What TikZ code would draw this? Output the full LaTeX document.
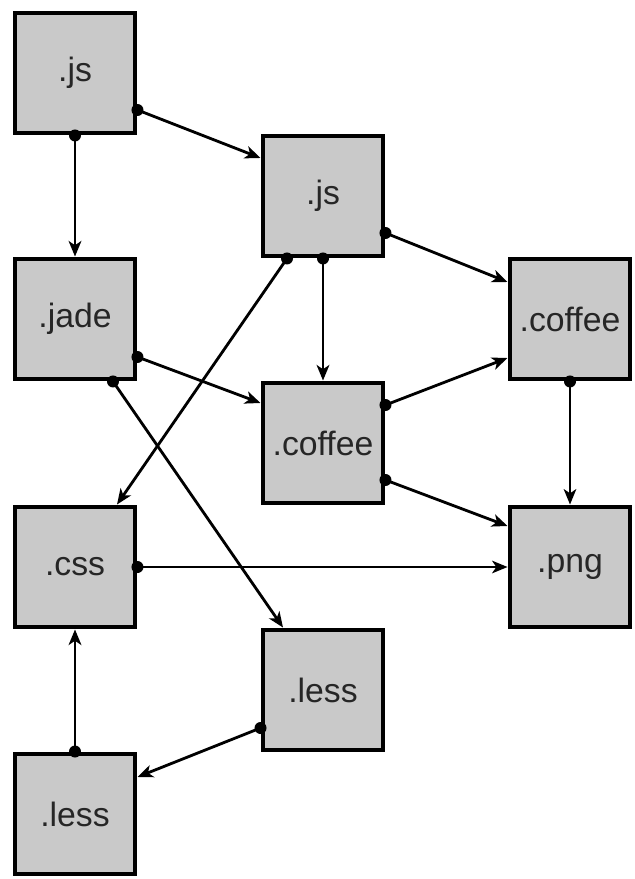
\documentclass[tikz,border=0pt]{standalone}
\usepackage{fontspec}
\setmainfont{Liberation Sans}
\usetikzlibrary{arrows.meta,calc}
\begin{document}
\begin{tikzpicture}[x=0.025cm, y=-0.025cm,
  box/.style={draw=black, line width=3.5pt, fill=BoxFill, minimum size=3cm,
    inner sep=0pt, font=\fontsize{24}{28}\selectfont, text=black!85},
  link/.style={line width=2pt, -{Stealth[length=11pt,width=9pt,inset=3pt]}},
  thinlink/.style={link, line width=1.2pt}]

\colorlet{BoxFill}{black!21}

\useasboundingbox (0,0) rectangle (635,879);

% Boxes
\node[box] (js)      at (75,73)   {.js};
\node[box] (js2)     at (323,196) {.js};
\node[box] (jade)    at (75,319)  {.jade};
\node[box] (coffee2) at (570,319) {.coffee};
\node[box] (coffee)  at (323,443) {.coffee};
\node[box] (css)     at (75,567)  {.css};
\node[box] (png)     at (570,567) {.png};
\node[box] (less2)   at (323,690) {.less};
\node[box] (less)    at (75,814)  {.less};

% Out points
\coordinate (js-r)      at ($(js.east)+(0,37)$);
\coordinate (js-b)      at (js.south);
\coordinate (js2-r)     at ($(js2.east)+(0,37)$);
\coordinate (js2-b)     at (js2.south);
\coordinate (js2-bl)    at ($(js2.south)+(-36,0)$);
\coordinate (jade-r)    at ($(jade.east)+(0,38)$);
\coordinate (jade-b)    at ($(jade.south)+(38,0)$);
\coordinate (coffee-ru) at ($(coffee.east)+(0,-38)$);
\coordinate (coffee-rd) at ($(coffee.east)+(0,37)$);
\coordinate (coffee2-b) at (coffee2.south);
\coordinate (css-r)     at (css.east);
\coordinate (less2-l)   at ($(less2.west)+(0,38)$);
\coordinate (less-t)    at (less.north);

% Links
\draw[link] (js-r) -- ($(js2.west)+(0,-38)$);
\draw[link] (js-b) -- (jade.north);
\draw[link] (js2-r) -- ($(coffee2.west)+(0,-37)$);
\draw[link] (js2-b) -- (coffee.north);
\draw[link] (js2-bl) -- ($(css.north)+(42,0)$);
\draw[link] (jade-r) -- ($(coffee.west)+(0,-40)$);
\draw[link] (jade-b) -- ($(less2.north)+(-40,0)$);
\draw[link] (coffee-ru) -- ($(coffee2.west)+(0,39)$);
\draw[link] (coffee-rd) -- ($(png.west)+(0,-41)$);
\draw[thinlink] (coffee2-b) -- (png.north);
\draw[thinlink] (css-r) -- (png.west);
\draw[link] (less2-l) -- ($(less.east)+(0,-37)$);
\draw[link] (less-t) -- (css.south);

% Dots
\foreach \p in {js-r,js-b,js2-r,js2-b,js2-bl,jade-r,jade-b,
                coffee-ru,coffee-rd,coffee2-b,css-r,less2-l,less-t}
{
     \fill[black] (\p) circle[radius=0.15cm];
}
\end{tikzpicture}
\end{document}
